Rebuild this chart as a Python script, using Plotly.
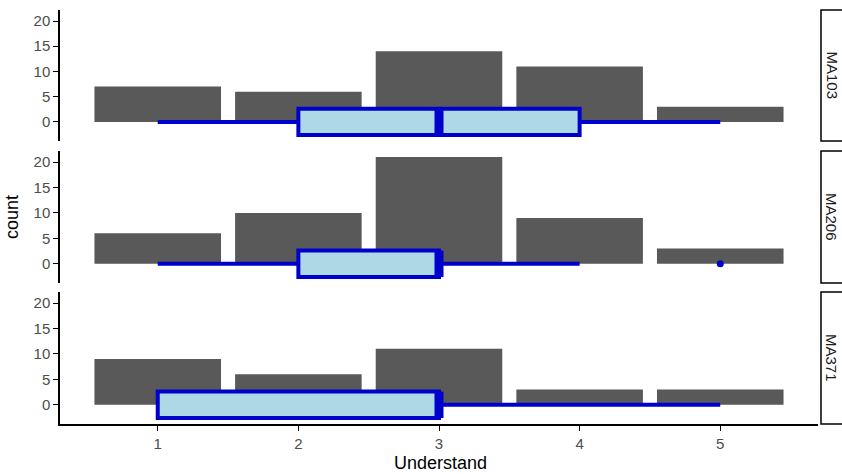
import numpy as np
import plotly.graph_objects as go

# ---- data ----
understand = [1, 2, 3, 4, 5]
courses = ["MA103", "MA206", "MA371"]
counts_ma103 = [7, 6, 14, 11, 3]
counts_ma206 = [6, 10, 21, 9, 3]
counts_ma371 = [9, 6, 11, 3, 3]
x_ticks = [1, 2, 3, 4, 5]
y_ticks = [0, 5, 10, 15, 20]

counts = {"MA103": counts_ma103, "MA206": counts_ma206, "MA371": counts_ma371}

BAR_COL = "#595959"
BOX_LINE = "#0000CD"
BOX_FILL = "#ADD8E6"
BOX_W = 5.2
Y_RANGE = [-3.78, 22.18]
X_RANGE = [0.305, 5.695]

W, H = 842, 474
ML, MR, MT, MB = 60, 24, 10, 50
PW, PH = W - ML - MR, H - MT - MB

# panel pixel extents (top, bottom)
panels_px = [(10, 141), (151, 283), (292, 424)]


def to_dom(top, bottom):
    return [(H - MB - bottom) / PH, (H - MB - top) / PH]


def box_stats(cnts):
    sample = np.repeat(understand, cnts).astype(float)
    q1, med, q3 = np.percentile(sample, [25, 50, 75])
    iqr = q3 - q1
    lo, hi = q1 - 1.5 * iqr, q3 + 1.5 * iqr
    inside = sample[(sample >= lo) & (sample <= hi)]
    outl = sorted(set(sample[(sample < lo) | (sample > hi)].tolist()))
    return q1, med, q3, inside.min(), inside.max(), outl


fig = go.Figure()
layout = {}
shapes = []
annotations = []

for i, course in enumerate(courses):
    k = i + 1
    xa = "x" if k == 1 else f"x{k}"
    ya = "y" if k == 1 else f"y{k}"
    c = counts[course]
    fig.add_trace(go.Bar(x=understand, y=c, width=0.9, marker=dict(color=BAR_COL, line=dict(width=0)),
                         xaxis=xa, yaxis=ya, showlegend=False, hoverinfo="skip"))
    q1, med, q3, lf, uf, outl = box_stats(c)
    fig.add_trace(go.Box(orientation="h", y=[0], q1=[q1], median=[med], q3=[q3],
                         lowerfence=[lf], upperfence=[uf], width=BOX_W, whiskerwidth=0,
                         fillcolor=BOX_FILL, line=dict(color=BOX_LINE, width=4),
                         boxpoints=False, xaxis=xa, yaxis=ya, showlegend=False, hoverinfo="skip"))
    # thicker median line (ggplot fatten)
    fig.add_trace(go.Scatter(x=[med, med], y=[-BOX_W / 2, BOX_W / 2], mode="lines",
                             line=dict(color=BOX_LINE, width=9), xaxis=xa, yaxis=ya,
                             showlegend=False, hoverinfo="skip"))
    if outl:
        fig.add_trace(go.Scatter(x=outl, y=[0] * len(outl), mode="markers",
                                 marker=dict(color=BOX_LINE, size=7), xaxis=xa, yaxis=ya,
                                 showlegend=False, hoverinfo="skip"))

    dom = to_dom(*panels_px[i])
    is_bottom = (k == len(courses))
    layout["xaxis" if k == 1 else f"xaxis{k}"] = dict(
        domain=[0, 1], range=X_RANGE, anchor=ya, tickvals=x_ticks,
        showline=is_bottom, linecolor="black", linewidth=1.5,
        ticks="outside" if is_bottom else "", ticklen=5, tickcolor="black", tickwidth=1,
        showticklabels=is_bottom, showgrid=False, zeroline=False,
        tickfont=dict(family="Liberation Sans, Arial", size=15, color="#4D4D4D"),
        **({} if k == 1 else {"matches": "x"}))
    layout["yaxis" if k == 1 else f"yaxis{k}"] = dict(
        domain=dom, range=Y_RANGE, anchor=xa, tickvals=y_ticks,
        showline=True, linecolor="black", linewidth=1.5,
        ticks="outside", ticklen=5, tickcolor="black", tickwidth=1,
        showgrid=False, zeroline=False,
        tickfont=dict(family="Liberation Sans, Arial", size=15, color="#4D4D4D"))

    # strip on right
    shapes.append(dict(type="rect", xref="paper", yref="paper",
                       x0=(821 - ML) / PW, x1=(860 - ML) / PW, y0=dom[0], y1=dom[1],
                       line=dict(color="black", width=1.5), fillcolor="white", layer="above"))
    annotations.append(dict(text=course, xref="paper", yref="paper",
                            x=(832 - ML) / PW, y=(dom[0] + dom[1]) / 2, showarrow=False,
                            textangle=90, xanchor="center", yanchor="middle",
                            font=dict(family="Liberation Sans, Arial", size=15, color="#1A1A1A")))

annotations.append(dict(text="count", xref="paper", yref="paper", x=(12 - ML) / PW, y=0.5,
                        showarrow=False, textangle=-90, xanchor="center", yanchor="middle",
                        font=dict(family="Liberation Sans, Arial", size=18, color="black")))
annotations.append(dict(text="Understand", xref="paper", yref="paper", x=(440 - ML) / PW,
                        y=-(463 - (H - MB)) / PH, showarrow=False, xanchor="center", yanchor="middle",
                        font=dict(family="Liberation Sans, Arial", size=18, color="black")))

fig.update_layout(width=W, height=H, margin=dict(l=ML, r=MR, t=MT, b=MB),
                  plot_bgcolor="white", paper_bgcolor="white", barmode="overlay",
                  shapes=shapes, annotations=annotations, **layout)

fig.write_html("out.html")
